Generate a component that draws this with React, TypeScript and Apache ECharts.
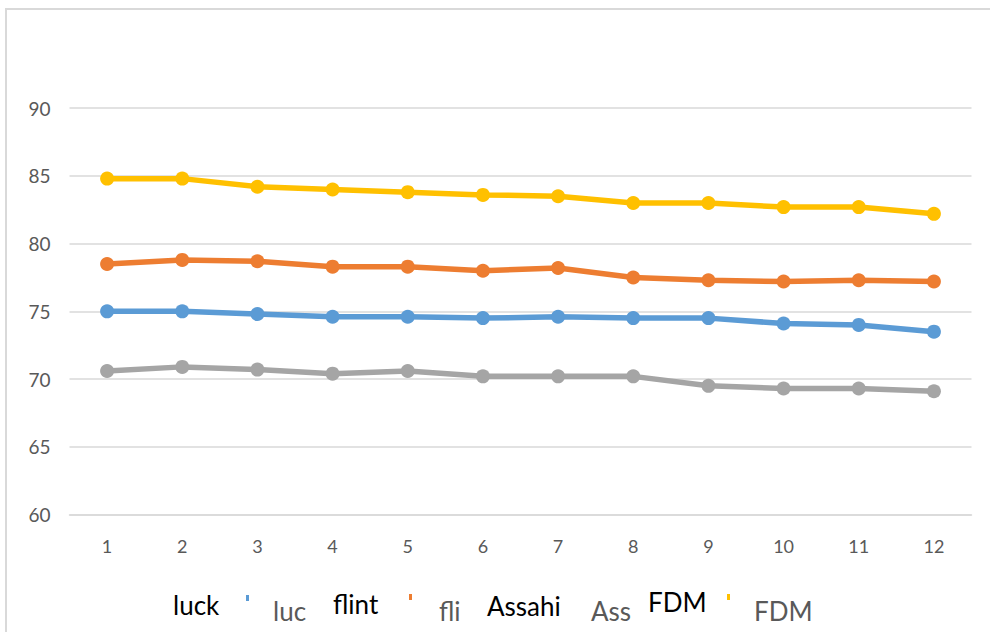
import React, { useEffect, useRef } from "react";
import * as echarts from "echarts";

const categories = ["1", "2", "3", "4", "5", "6", "7", "8", "9", "10", "11", "12"];
const seriesNames = ["luck", "flint", "Assahi", "FDM"];
const luck = [75.0, 75.0, 74.8, 74.6, 74.6, 74.5, 74.6, 74.5, 74.5, 74.1, 74.0, 73.5];
const flint = [78.5, 78.8, 78.7, 78.3, 78.3, 78.0, 78.2, 77.5, 77.3, 77.2, 77.3, 77.2];
const assahi = [70.6, 70.9, 70.7, 70.4, 70.6, 70.2, 70.2, 70.2, 69.5, 69.3, 69.3, 69.1];
const fdm = [84.8, 84.8, 84.2, 84.0, 83.8, 83.6, 83.5, 83.0, 83.0, 82.7, 82.7, 82.2];
const seriesData = [luck, flint, assahi, fdm];
const colors = ["#5B9BD5", "#ED7D31", "#A5A5A5", "#FFC000"];

const FONT = "Lato, 'Open Sans', sans-serif";

export default function App() {
  const ref = useRef<HTMLDivElement>(null);
  useEffect(() => {
    if (!ref.current) return;
    const chart = echarts.init(ref.current, null, { renderer: "svg" });
    const legendLeft = [268, 434, 586, 749];
    const legendWidth = [42, 34, 52, 80];
    const blackLabels = [
      { text: "luck", x: 173, y: 605 },
      { text: "flint", x: 333, y: 604 },
      { text: "Assahi", x: 487, y: 606 },
      { text: "FDM", x: 648, y: 602 },
    ];
    const slivers = [
      { x: 246, y: 595, c: colors[0] },
      { x: 409, y: 594, c: colors[1] },
      { x: 727, y: 594, c: colors[3] },
    ];
    chart.setOption({
      animation: false,
      backgroundColor: "#ffffff",
      textStyle: { fontFamily: FONT },
      grid: { left: 69.5, right: 18.5, top: 108.2, bottom: 117.5, containLabel: false },
      legend: seriesNames.map((n, i) => ({
        data: [n],
        left: legendLeft[i],
        top: 598,
        itemWidth: 0,
        itemHeight: 0,
        itemGap: 0,
        icon: "rect",
        padding: 0,
        textStyle: {
          color: "#595959",
          fontSize: 26,
          fontFamily: FONT,
          width: legendWidth[i],
          overflow: "truncate",
          ellipsis: "",
        },
        selectedMode: false,
      })),
      xAxis: {
        type: "category",
        data: categories,
        boundaryGap: true,
        axisLine: { show: true, lineStyle: { color: "#D9D9D9", width: 1.5 } },
        axisTick: { show: false },
        axisLabel: { color: "#595959", fontSize: 18, margin: 22, fontFamily: FONT },
      },
      yAxis: {
        type: "value",
        min: 60,
        max: 90,
        interval: 5,
        axisLine: { show: false },
        axisTick: { show: false },
        axisLabel: { color: "#595959", fontSize: 19, margin: 19, fontFamily: FONT },
        splitLine: { lineStyle: { color: "#D9D9D9", width: 1.5 } },
      },
      series: seriesNames.map((n, i) => ({
        name: n,
        type: "line",
        data: seriesData[i],
        color: colors[i],
        symbol: "circle",
        symbolSize: 14,
        lineStyle: { width: 5.5, color: colors[i] },
        itemStyle: { color: colors[i] },
      })),
      graphic: [
        {
          type: "rect",
          shape: { x: 6, y: 9, width: 1000, height: 700 },
          style: { fill: "none", stroke: "#D9D9D9", lineWidth: 2 },
          z: 1,
          silent: true,
        },
        ...slivers.map((s) => ({
          type: "rect",
          shape: { x: s.x, y: s.y, width: 3, height: 6 },
          style: { fill: s.c },
          z: 101,
          silent: true,
        })),
        ...blackLabels.map((l) => ({
          type: "text",
          x: l.x,
          y: l.y,
          z: 102,
          silent: true,
          style: {
            text: l.text,
            fill: "#000000",
            fontSize: 26,
            fontFamily: FONT,
            verticalAlign: "middle",
          },
        })),
      ],
    });
    return () => chart.dispose();
  }, []);
  return <div ref={ref} style={{ width: 990, height: 632, position: "absolute", left: 0, top: 0 }} />;
}
